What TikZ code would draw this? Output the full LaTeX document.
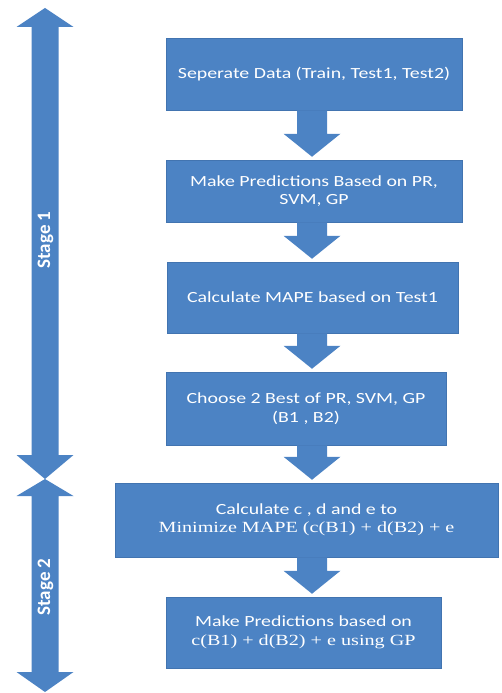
\documentclass[tikz,border=0pt]{standalone}
\usepackage{fontspec}
\setmainfont[FakeStretch=1.28]{Carlito}
\newfontfamily\tnr[FakeStretch=1.3]{Liberation Serif}
\newfontfamily\stagefont{Carlito}
\usetikzlibrary{calc}
\definecolor{boxblue}{RGB}{76,131,196}
\definecolor{boxedge}{RGB}{66,116,176}
\tikzset{
  stepbox/.style={rectangle, fill=boxblue, draw=boxedge, line width=0.5pt, text=white, align=center, inner sep=2pt,
    font=\fontsize{15.5}{18.5}\selectfont},
  arr/.style={fill=boxblue},
  stagelabel/.style={text=white, rotate=90, font=\stagefont\bfseries\fontsize{19}{22}\selectfont, inner sep=0pt}
}
\newcommand\blockdown[2]{%
  \fill[arr] ($(#1.south -| ax)+(-15pt,0)$) -- ($(#2.north -| ax)+(-15pt,26pt)$) -- ++(-13.5pt,0)
    -- ($(#2.north -| ax)+(0,3pt)$) -- ($(#2.north -| ax)+(28.5pt,26pt)$) -- ++(-13.5pt,0)
    -- ($(#1.south -| ax)+(15pt,0)$) -- cycle;}
\begin{document}
\begin{tikzpicture}[x=1pt,y=1pt]
\useasboundingbox (0,0) rectangle (501,-693);
\coordinate (ax) at (312,0);
% boxes
\node[stepbox, minimum width=296pt, minimum height=72pt] (b1) at (314,-74) {Seperate Data (Train, Test1, Test2)};
\node[stepbox, minimum width=296pt, minimum height=62pt] (b2) at (314,-191) {Make Predictions Based on PR,\\SVM, GP};
\node[stepbox, minimum width=291pt, minimum height=71pt] (b3) at (312.5,-297.5) {Calculate MAPE based on Test1};
\node[stepbox, minimum width=280pt, minimum height=73pt] (b4) at (306,-408.5) {Choose 2 Best of PR, SVM, GP\\(B1 , B2)};
\node[stepbox, minimum width=383pt, minimum height=74pt] (b5) at (306.5,-520) {Calculate c , d and e to\\{\tnr Minimize MAPE (c(B1) + d(B2) + e}};
\node[stepbox, minimum width=275pt, minimum height=71pt] (b6) at (303.5,-632.5) {Make Predictions based on\\{\tnr c(B1) + d(B2) + e using GP}};
% block arrows
\blockdown{b1}{b2}
\blockdown{b2}{b3}
\blockdown{b3}{b4}
\blockdown{b4}{b5}
\blockdown{b5}{b6}
% stage arrows
\fill[arr] (45,-8) -- (73.5,-27) -- (58.5,-27) -- (58.5,-455) -- (73.5,-455) -- (45,-479)
  -- (16.5,-455) -- (31.5,-455) -- (31.5,-27) -- (16.5,-27) -- cycle;
\fill[arr] (45,-479) -- (73.5,-496) -- (58.5,-496) -- (58.5,-672) -- (73.5,-672) -- (45,-692)
  -- (16.5,-672) -- (31.5,-672) -- (31.5,-496) -- (16.5,-496) -- cycle;
\node[stagelabel] (s1) at (45.5,-240) {Stage 1};
\node[stagelabel] (s2) at (45.5,-587) {Stage 2};
\end{tikzpicture}
\end{document}
